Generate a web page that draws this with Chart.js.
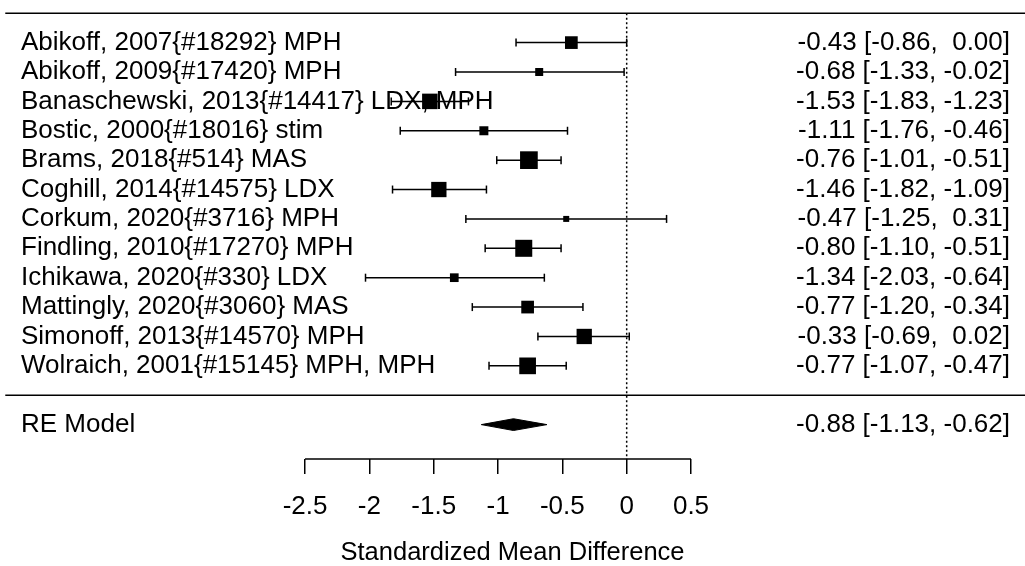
<!DOCTYPE html>
<html>
<head>
<meta charset="utf-8">
<script src="https://cdn.jsdelivr.net/npm/chart.js@4/dist/chart.umd.min.js"></script>
<style>
	body { margin: 0; background: #fff; }
	#box { width: 1025px; height: 566px; }
</style>
</head>
<body>
<div id="box"><canvas id="forest" width="1025" height="566"></canvas></div>
<script>
/* data */
var studies = ['Abikoff, 2007{#18292} MPH', 'Abikoff, 2009{#17420} MPH', 'Banaschewski, 2013{#14417} LDX, MPH',
	'Bostic, 2000{#18016} stim', 'Brams, 2018{#514} MAS', 'Coghill, 2014{#14575} LDX', 'Corkum, 2020{#3716} MPH',
	'Findling, 2010{#17270} MPH', 'Ichikawa, 2020{#330} LDX', 'Mattingly, 2020{#3060} MAS',
	'Simonoff, 2013{#14570} MPH', 'Wolraich, 2001{#15145} MPH, MPH'];
var smd   = [-0.43, -0.68, -1.53, -1.11, -0.76, -1.46, -0.47, -0.80, -1.34, -0.77, -0.33, -0.77];
var lower = [-0.86, -1.33, -1.83, -1.76, -1.01, -1.82, -1.25, -1.10, -2.03, -1.20, -0.69, -1.07];
var upper = [ 0.00, -0.02, -1.23, -0.46, -0.51, -1.09,  0.31, -0.51, -0.64, -0.34,  0.02, -0.47];
// box size (px) ~ study weight
var boxSize = [12.7, 8, 15.5, 9, 17.7, 15.3, 6, 17, 8.7, 12.7, 15.3, 16.7];
var reLabel = 'RE Model';
var reEst = -0.88, reLo = -1.13, reHi = -0.62;
var tickVals = [-2.5, -2, -1.5, -1, -0.5, 0, 0.5];
var tickLabels = ['-2.5', '-2', '-1.5', '-1', '-0.5', '0', '0.5'];
var xTitle = 'Standardized Mean Difference';

var FONT = "'Liberation Sans', Arial, sans-serif";

function fmt(v){
	var s = v.toFixed(2);
	return v >= 0 ? ' ' + s : s;
}

/* row positions: study i at row i+1, separator at 13, RE model at 14 */
var rowOf = function(i){ return i + 1; };
var sepRow = studies.length + 1;
var reRow = studies.length + 2;
var Y_MIN = -0.45, Y_MAX = 15.17;
var X_MIN = -4.871, X_MAX = 3.096;

// error bars: segments split by null gaps
var ciData = [];
var capR = [];
for (var i = 0; i < studies.length; i++) {
	ciData.push({x: lower[i], y: rowOf(i)}, {x: upper[i], y: rowOf(i)}, {x: smd[i], y: null});
	capR.push(4, 4, 0);
}
var boxData = smd.map(function(v, i){ return {x: v, y: rowOf(i)}; });
var boxR = boxSize.map(function(s){ return s / Math.SQRT2; });

var diamondData = [
	{x: reLo, y: reRow}, {x: reEst, y: reRow - 0.2}, {x: reHi, y: reRow},
	{x: reEst, y: reRow + 0.2}, {x: reLo, y: reRow}
];

/* texts on both sides of the plot */
var textPlugin = {
	id: 'forestText',
	beforeDatasetsDraw: function(chart){
		var ctx = chart.ctx;
		var ys = chart.scales.y;
		ctx.save();
		ctx.fillStyle = '#000';
		ctx.font = '26px ' + FONT;
		ctx.textBaseline = 'middle';
		for (var i = 0; i < studies.length; i++) {
			var py = ys.getPixelForValue(rowOf(i));
			ctx.textAlign = 'left';
			ctx.fillText(studies[i], 21, py);
			ctx.textAlign = 'right';
			ctx.fillText(fmt(smd[i]) + ' [' + fmt(lower[i]) + ', ' + fmt(upper[i]) + ']', 1010, py);
		}
		var pr = ys.getPixelForValue(reRow);
		ctx.textAlign = 'left';
		ctx.fillText(reLabel, 21, pr);
		ctx.textAlign = 'right';
		ctx.fillText(fmt(reEst) + ' [' + fmt(reLo) + ', ' + fmt(reHi) + ']', 1010, pr);
		ctx.restore();
	}
};

function hline(y, x0, x1, w){
	return {
		type: 'line', data: [{x: x0, y: y}, {x: x1, y: y}],
		borderColor: '#000', borderWidth: w, pointRadius: 0, clip: false, order: 3
	};
}

var ctx = document.getElementById('forest').getContext('2d');
var forest = new Chart(ctx, {
	type: 'scatter',
	data: {
		datasets: [
			// squares
			{
				data: boxData, pointStyle: 'rect', pointRadius: boxR,
				backgroundColor: '#000', borderColor: '#000', borderWidth: 0, order: 0
			},
			// confidence intervals with end caps
			{
				type: 'line', data: ciData, borderColor: '#000', borderWidth: 1.5,
				pointStyle: 'line', pointRotation: 90, pointRadius: capR,
				pointBorderColor: '#000', pointBorderWidth: 1.5, spanGaps: false, clip: false, order: 1
			},
			// summary diamond
			{
				type: 'line', data: diamondData, borderColor: '#000', borderWidth: 1,
				backgroundColor: '#000', fill: 'shape', pointRadius: 0, tension: 0, clip: false, order: 1
			},
			// zero line (dotted)
			{
				type: 'line', data: [{x: 0, y: 0}, {x: 0, y: Y_MAX}], borderColor: '#000', borderWidth: 1.5,
				borderDash: [2, 2.5], pointRadius: 0, clip: false, order: 2
			},
			hline(0, -4.83, X_MAX, 1.6),
			hline(sepRow, -4.83, X_MAX, 1.6),
			// axis line
			hline(Y_MAX, tickVals[0], tickVals[tickVals.length - 1], 1.5)
		]
	},
	options: {
		responsive: false,
		animation: false,
		devicePixelRatio: 1,
		layout: { padding: 0, autoPadding: false },
		plugins: { legend: { display: false }, tooltip: { enabled: false } },
		scales: {
			x: {
				type: 'linear', min: X_MIN, max: X_MAX,
				afterBuildTicks: function(s){ s.ticks = tickVals.map(function(v){ return {value: v}; }); },
				ticks: {
					color: '#000', padding: 20, maxRotation: 0, autoSkip: false,
					font: { family: FONT, size: 26, lineHeight: 1 },
					callback: function(v){ var k = tickVals.indexOf(v); return k < 0 ? '' : tickLabels[k]; }
				},
				grid: { drawOnChartArea: false, drawTicks: true, tickLength: 15, color: '#000', lineWidth: 1.5 },
				border: { display: false },
				title: {
					display: true, text: xTitle, color: '#000',
					font: { family: FONT, size: 25.5, lineHeight: 1 },
					padding: { top: 0, bottom: 0.5 }
				}
			},
			y: { type: 'linear', display: false, reverse: true, min: Y_MIN, max: Y_MAX }
		}
	},
	plugins: [textPlugin]
});
</script>
</body>
</html>
